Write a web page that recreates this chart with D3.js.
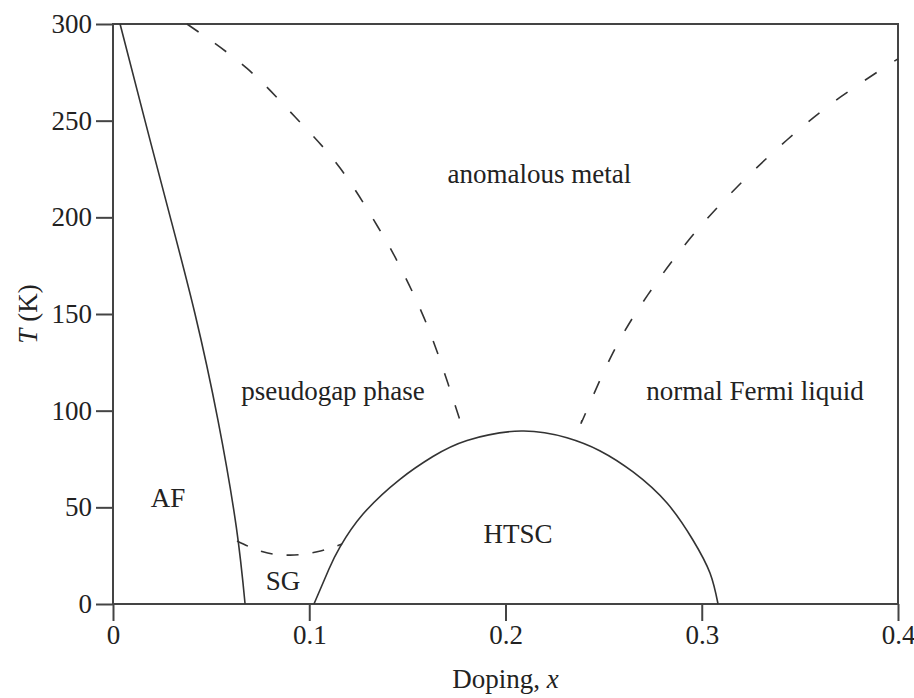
<!DOCTYPE html>
<html>
<head>
<meta charset="utf-8">
<script src="https://cdn.jsdelivr.net/npm/d3@7"></script>
<style>
  body { margin: 0; background: #fff; }
  svg text { font-family: "Liberation Serif", "Times New Roman", serif; fill: #222; }
</style>
</head>
<body>
<svg id="chart" width="914" height="698"></svg>
<script>
// phase boundaries as [doping x, T in K]
var afLine = [[0.0036, 300], [0.0163, 250], [0.0292, 200], [0.0418, 150], [0.0535, 95], [0.0628, 40], [0.0673, 0]];
var pseudogapLeft = [[0.0377, 300], [0.0683, 277], [0.0927, 252], [0.1157, 225.5], [0.135, 195], [0.1437, 179.5], [0.1585, 148], [0.1707, 114], [0.1768, 95]];
var pseudogapRight = [[0.239, 95], [0.2405, 98], [0.2548, 130], [0.2726, 160], [0.294, 189], [0.318, 215.7], [0.3434, 240], [0.3704, 262], [0.4, 282]];
var spinGlass = [[0.0632, 32.6], [0.0764, 27], [0.0902, 25.3], [0.104, 27], [0.1167, 31]];
var htscDome = [[0.1024, 0], [0.11, 18], [0.1157, 29.5], [0.1274, 46.5], [0.1462, 64.5], [0.163, 76.3], [0.1804, 84.6], [0.208, 89.5], [0.2313, 86], [0.248, 79.3], [0.265, 68.3], [0.2823, 52.2], [0.2955, 33.1], [0.3042, 16], [0.3083, 0]];

var xTicks = [0, 0.1, 0.2, 0.3, 0.4];
var yTicks = [0, 50, 100, 150, 200, 250, 300];

// region names, placed at [x, T]
var regionNames = ["anomalous metal", "pseudogap phase", "normal Fermi liquid", "AF", "SG", "HTSC"];
var regionSpots = [[0.2173, 217.8], [0.1121, 105.5], [0.3271, 105.5], [0.028, 50.2], [0.0866, 7.2], [0.2064, 31.6]];

var margin = {top: 24, right: 16, bottom: 94, left: 113};
var width = 914 - margin.left - margin.right;
var height = 698 - margin.top - margin.bottom;

var svg = d3.select("#chart");
var g = svg.append("g")
    .attr("transform", "translate(" + margin.left + "," + margin.top + ")");

var x = d3.scaleLinear().domain([0, 0.4]).range([0, width]);
var y = d3.scaleLinear().domain([0, 300]).range([height, 0]);

// frame
g.append("rect")
    .attr("width", width)
    .attr("height", height)
    .attr("fill", "none")
    .attr("stroke", "#444")
    .attr("stroke-width", 2);

var xAxis = g.append("g")
    .attr("transform", "translate(0," + height + ")")
    .call(d3.axisBottom(x).tickValues(xTicks).tickSize(17).tickPadding(4)
        .tickFormat(function(d) { return d === 0 ? "0" : d3.format(".1f")(d); }));

var yAxis = g.append("g")
    .call(d3.axisLeft(y).tickValues(yTicks).tickSize(17).tickPadding(4));

[xAxis, yAxis].forEach(function(a) {
    a.select(".domain").remove();
    a.selectAll("line").attr("stroke", "#444").attr("stroke-width", 2);
    a.selectAll("text")
        .attr("font-family", "Liberation Serif, serif")
        .attr("font-size", 27)
        .attr("fill", "#222");
});

var line = d3.line()
    .x(function(d) { return x(d[0]); })
    .y(function(d) { return y(d[1]); })
    .curve(d3.curveNatural);

function drawBoundary(data, dash) {
    g.append("path")
        .datum(data)
        .attr("d", line)
        .attr("fill", "none")
        .attr("stroke", "#333")
        .attr("stroke-width", 1.6)
        .attr("stroke-dasharray", dash);
}

drawBoundary(afLine, null);
drawBoundary(htscDome, null);
drawBoundary(pseudogapLeft, "14,20");
drawBoundary(pseudogapRight, "14,21");
drawBoundary(spinGlass, "12,14");

g.selectAll("text.region")
    .data(regionNames)
    .enter().append("text")
    .attr("class", "region")
    .attr("x", function(d, i) { return x(regionSpots[i][0]); })
    .attr("y", function(d, i) { return y(regionSpots[i][1]); })
    .attr("text-anchor", "middle")
    .attr("font-size", 27)
    .text(function(d) { return d; });

// axis titles
var xTitle = svg.append("text")
    .attr("x", margin.left + x(0.2))
    .attr("y", 688)
    .attr("text-anchor", "middle")
    .attr("font-size", 27);
xTitle.append("tspan").text("Doping, ");
xTitle.append("tspan").attr("font-style", "italic").text("x");

var yTitle = svg.append("text")
    .attr("transform", "translate(37," + (margin.top + y(150)) + ") rotate(-90)")
    .attr("text-anchor", "middle")
    .attr("font-size", 27);
yTitle.append("tspan").attr("font-style", "italic").text("T");
yTitle.append("tspan").text(" (K)");
</script>
</body>
</html>
